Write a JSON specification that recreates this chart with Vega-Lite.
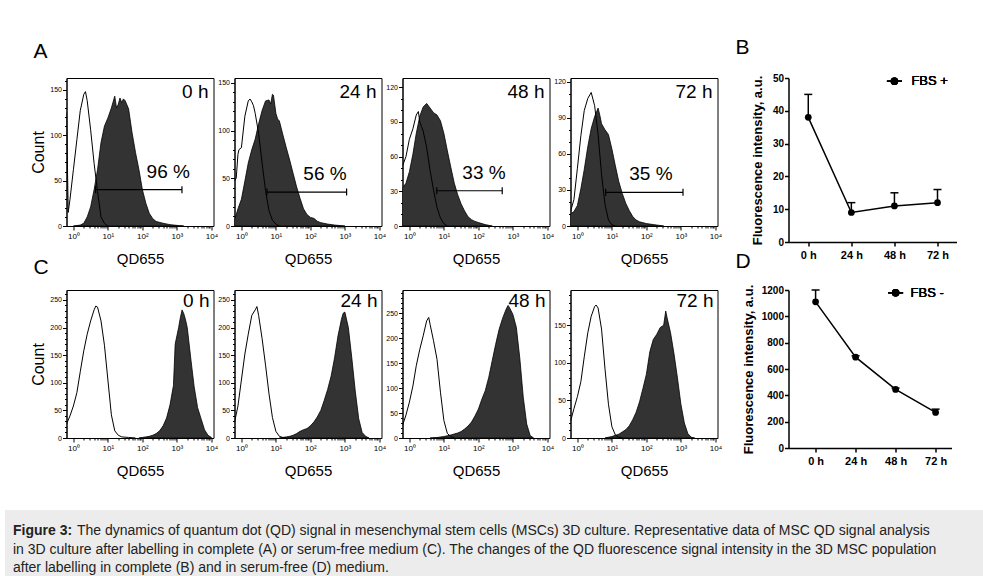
{
"$schema": "https://vega.github.io/schema/vega-lite/v6.json",
"background": "white",
"padding": {"left": 5, "top": 37, "right": 0, "bottom": 0},
"datasets": {
"h": [
{"p":"A0","c":"c","x":0.631,"n":125},{"p":"A0","c":"c","x":0.708,"n":15},{"p":"A0","c":"c","x":0.794,"n":29},{"p":"A0","c":"c","x":1,"n":62},{"p":"A0","c":"c","x":1.26,"n":95},{"p":"A0","c":"c","x":1.58,"n":127},{"p":"A0","c":"c","x":2,"n":145},{"p":"A0","c":"c","x":2.24,"n":148},{"p":"A0","c":"c","x":2.51,"n":138},{"p":"A0","c":"c","x":3.16,"n":106},{"p":"A0","c":"c","x":3.98,"n":69},{"p":"A0","c":"c","x":5.01,"n":38},{"p":"A0","c":"c","x":6.31,"n":10},{"p":"A0","c":"c","x":7.94,"n":3},{"p":"A0","c":"c","x":10,"n":0},
{"p":"A0","c":"q","x":1,"n":0},{"p":"A0","c":"q","x":1.58,"n":1},{"p":"A0","c":"q","x":2,"n":3},{"p":"A0","c":"q","x":2.51,"n":10},{"p":"A0","c":"q","x":3.16,"n":21},{"p":"A0","c":"q","x":3.98,"n":40},{"p":"A0","c":"q","x":5.01,"n":62},{"p":"A0","c":"q","x":6.31,"n":92},{"p":"A0","c":"q","x":7.94,"n":110},{"p":"A0","c":"q","x":10,"n":119},{"p":"A0","c":"q","x":12.6,"n":130},{"p":"A0","c":"q","x":15.8,"n":143},{"p":"A0","c":"q","x":17.8,"n":130},{"p":"A0","c":"q","x":20,"n":134},{"p":"A0","c":"q","x":22.4,"n":141},{"p":"A0","c":"q","x":25.1,"n":136},{"p":"A0","c":"q","x":28.2,"n":140},{"p":"A0","c":"q","x":31.6,"n":138},{"p":"A0","c":"q","x":39.8,"n":129},{"p":"A0","c":"q","x":50.1,"n":103},{"p":"A0","c":"q","x":63.1,"n":81},{"p":"A0","c":"q","x":79.4,"n":62},{"p":"A0","c":"q","x":100,"n":40},{"p":"A0","c":"q","x":126,"n":25},{"p":"A0","c":"q","x":158,"n":14},{"p":"A0","c":"q","x":200,"n":8},{"p":"A0","c":"q","x":251,"n":5},{"p":"A0","c":"q","x":398,"n":3},{"p":"A0","c":"q","x":631,"n":1.5},{"p":"A0","c":"q","x":1000,"n":0.7},{"p":"A0","c":"q","x":1585,"n":0},
{"p":"A24","c":"c","x":0.631,"n":47},{"p":"A24","c":"c","x":0.708,"n":50},{"p":"A24","c":"c","x":0.794,"n":75},{"p":"A24","c":"c","x":0.851,"n":80},{"p":"A24","c":"c","x":1,"n":82},{"p":"A24","c":"c","x":1.26,"n":115},{"p":"A24","c":"c","x":1.58,"n":131},{"p":"A24","c":"c","x":1.78,"n":133},{"p":"A24","c":"c","x":2,"n":130},{"p":"A24","c":"c","x":2.24,"n":126},{"p":"A24","c":"c","x":2.51,"n":118},{"p":"A24","c":"c","x":3.16,"n":97},{"p":"A24","c":"c","x":3.98,"n":66},{"p":"A24","c":"c","x":5.01,"n":37},{"p":"A24","c":"c","x":6.31,"n":16},{"p":"A24","c":"c","x":7.94,"n":6},{"p":"A24","c":"c","x":10,"n":2},{"p":"A24","c":"c","x":12.6,"n":0},
{"p":"A24","c":"q","x":0.631,"n":6},{"p":"A24","c":"q","x":0.794,"n":18},{"p":"A24","c":"q","x":1,"n":28},{"p":"A24","c":"q","x":1.26,"n":47},{"p":"A24","c":"q","x":1.58,"n":66},{"p":"A24","c":"q","x":2,"n":80},{"p":"A24","c":"q","x":2.51,"n":91},{"p":"A24","c":"q","x":3.16,"n":107},{"p":"A24","c":"q","x":3.98,"n":121},{"p":"A24","c":"q","x":5.01,"n":131},{"p":"A24","c":"q","x":6.31,"n":132},{"p":"A24","c":"q","x":7.08,"n":128},{"p":"A24","c":"q","x":7.94,"n":138},{"p":"A24","c":"q","x":8.5,"n":137},{"p":"A24","c":"q","x":10,"n":118},{"p":"A24","c":"q","x":11.2,"n":112},{"p":"A24","c":"q","x":12.6,"n":110},{"p":"A24","c":"q","x":15.8,"n":96},{"p":"A24","c":"q","x":20,"n":82},{"p":"A24","c":"q","x":25.1,"n":69},{"p":"A24","c":"q","x":31.6,"n":55},{"p":"A24","c":"q","x":39.8,"n":41},{"p":"A24","c":"q","x":50.1,"n":29},{"p":"A24","c":"q","x":63.1,"n":18},{"p":"A24","c":"q","x":79.4,"n":12},{"p":"A24","c":"q","x":100,"n":9},{"p":"A24","c":"q","x":126,"n":8},{"p":"A24","c":"q","x":158,"n":5},{"p":"A24","c":"q","x":200,"n":3.5},{"p":"A24","c":"q","x":316,"n":2},{"p":"A24","c":"q","x":501,"n":1},{"p":"A24","c":"q","x":1000,"n":0},
{"p":"A48","c":"c","x":0.631,"n":52},{"p":"A48","c":"c","x":0.794,"n":60},{"p":"A48","c":"c","x":1,"n":75},{"p":"A48","c":"c","x":1.26,"n":84},{"p":"A48","c":"c","x":1.58,"n":96},{"p":"A48","c":"c","x":1.82,"n":99},{"p":"A48","c":"c","x":2,"n":90},{"p":"A48","c":"c","x":2.24,"n":86},{"p":"A48","c":"c","x":2.51,"n":82},{"p":"A48","c":"c","x":3.16,"n":68},{"p":"A48","c":"c","x":3.98,"n":48},{"p":"A48","c":"c","x":5.01,"n":31},{"p":"A48","c":"c","x":6.31,"n":16},{"p":"A48","c":"c","x":7.94,"n":7},{"p":"A48","c":"c","x":10,"n":2},{"p":"A48","c":"c","x":12.6,"n":0},
{"p":"A48","c":"q","x":0.631,"n":33},{"p":"A48","c":"q","x":0.794,"n":37},{"p":"A48","c":"q","x":1,"n":47},{"p":"A48","c":"q","x":1.26,"n":62},{"p":"A48","c":"q","x":1.58,"n":80},{"p":"A48","c":"q","x":2,"n":95},{"p":"A48","c":"q","x":2.51,"n":103},{"p":"A48","c":"q","x":3.16,"n":106},{"p":"A48","c":"q","x":3.55,"n":104},{"p":"A48","c":"q","x":3.98,"n":102},{"p":"A48","c":"q","x":5.01,"n":98},{"p":"A48","c":"q","x":6.31,"n":96},{"p":"A48","c":"q","x":7.94,"n":91},{"p":"A48","c":"q","x":10,"n":80},{"p":"A48","c":"q","x":12.6,"n":65},{"p":"A48","c":"q","x":15.8,"n":51},{"p":"A48","c":"q","x":20,"n":37},{"p":"A48","c":"q","x":25.1,"n":27},{"p":"A48","c":"q","x":31.6,"n":19},{"p":"A48","c":"q","x":39.8,"n":13},{"p":"A48","c":"q","x":50.1,"n":8},{"p":"A48","c":"q","x":63.1,"n":5.5},{"p":"A48","c":"q","x":79.4,"n":4},{"p":"A48","c":"q","x":100,"n":3},{"p":"A48","c":"q","x":158,"n":1.2},{"p":"A48","c":"q","x":251,"n":0},
{"p":"A72","c":"c","x":0.631,"n":12},{"p":"A72","c":"c","x":0.794,"n":22},{"p":"A72","c":"c","x":1,"n":48},{"p":"A72","c":"c","x":1.26,"n":75},{"p":"A72","c":"c","x":1.58,"n":96},{"p":"A72","c":"c","x":2,"n":106},{"p":"A72","c":"c","x":2.51,"n":111},{"p":"A72","c":"c","x":3.16,"n":100},{"p":"A72","c":"c","x":3.98,"n":76},{"p":"A72","c":"c","x":5.01,"n":43},{"p":"A72","c":"c","x":6.31,"n":18},{"p":"A72","c":"c","x":7.94,"n":5},{"p":"A72","c":"c","x":10,"n":1},{"p":"A72","c":"c","x":12.6,"n":0},
{"p":"A72","c":"q","x":0.631,"n":10},{"p":"A72","c":"q","x":0.794,"n":12},{"p":"A72","c":"q","x":1,"n":17},{"p":"A72","c":"q","x":1.26,"n":31},{"p":"A72","c":"q","x":1.58,"n":47},{"p":"A72","c":"q","x":2,"n":66},{"p":"A72","c":"q","x":2.51,"n":81},{"p":"A72","c":"q","x":3.16,"n":91},{"p":"A72","c":"q","x":3.98,"n":98},{"p":"A72","c":"q","x":4.47,"n":92},{"p":"A72","c":"q","x":5.01,"n":85},{"p":"A72","c":"q","x":6.31,"n":80},{"p":"A72","c":"q","x":7.94,"n":76},{"p":"A72","c":"q","x":10,"n":64},{"p":"A72","c":"q","x":12.6,"n":50},{"p":"A72","c":"q","x":15.8,"n":37},{"p":"A72","c":"q","x":20,"n":27},{"p":"A72","c":"q","x":25.1,"n":19},{"p":"A72","c":"q","x":31.6,"n":13},{"p":"A72","c":"q","x":39.8,"n":8},{"p":"A72","c":"q","x":50.1,"n":5},{"p":"A72","c":"q","x":63.1,"n":3.5},{"p":"A72","c":"q","x":100,"n":2},{"p":"A72","c":"q","x":158,"n":1.2},{"p":"A72","c":"q","x":316,"n":0},
{"p":"C0","c":"c","x":0.631,"n":25},{"p":"C0","c":"c","x":0.794,"n":40},{"p":"C0","c":"c","x":1,"n":58},{"p":"C0","c":"c","x":1.26,"n":82},{"p":"C0","c":"c","x":1.58,"n":120},{"p":"C0","c":"c","x":2,"n":158},{"p":"C0","c":"c","x":2.51,"n":188},{"p":"C0","c":"c","x":3.16,"n":212},{"p":"C0","c":"c","x":3.98,"n":232},{"p":"C0","c":"c","x":4.47,"n":239},{"p":"C0","c":"c","x":5.01,"n":237},{"p":"C0","c":"c","x":6.31,"n":212},{"p":"C0","c":"c","x":7.94,"n":168},{"p":"C0","c":"c","x":10,"n":105},{"p":"C0","c":"c","x":12.6,"n":42},{"p":"C0","c":"c","x":15.8,"n":13},{"p":"C0","c":"c","x":20,"n":5},{"p":"C0","c":"c","x":25.1,"n":2},{"p":"C0","c":"c","x":39.8,"n":1},{"p":"C0","c":"c","x":63.1,"n":0},
{"p":"C0","c":"q","x":79.4,"n":0},{"p":"C0","c":"q","x":100,"n":1},{"p":"C0","c":"q","x":126,"n":2},{"p":"C0","c":"q","x":158,"n":3},{"p":"C0","c":"q","x":200,"n":5},{"p":"C0","c":"q","x":251,"n":8},{"p":"C0","c":"q","x":316,"n":13},{"p":"C0","c":"q","x":398,"n":22},{"p":"C0","c":"q","x":501,"n":36},{"p":"C0","c":"q","x":631,"n":60},{"p":"C0","c":"q","x":794,"n":95},{"p":"C0","c":"q","x":891,"n":170},{"p":"C0","c":"q","x":1000,"n":185},{"p":"C0","c":"q","x":1122,"n":200},{"p":"C0","c":"q","x":1259,"n":218},{"p":"C0","c":"q","x":1413,"n":232},{"p":"C0","c":"q","x":1585,"n":225},{"p":"C0","c":"q","x":1778,"n":214},{"p":"C0","c":"q","x":1995,"n":200},{"p":"C0","c":"q","x":2512,"n":145},{"p":"C0","c":"q","x":3162,"n":93},{"p":"C0","c":"q","x":3981,"n":55},{"p":"C0","c":"q","x":5012,"n":35},{"p":"C0","c":"q","x":6310,"n":15},{"p":"C0","c":"q","x":7943,"n":5},{"p":"C0","c":"q","x":10000,"n":1},
{"p":"C24","c":"c","x":0.631,"n":28},{"p":"C24","c":"c","x":0.794,"n":58},{"p":"C24","c":"c","x":1,"n":105},{"p":"C24","c":"c","x":1.26,"n":152},{"p":"C24","c":"c","x":1.58,"n":188},{"p":"C24","c":"c","x":2,"n":222},{"p":"C24","c":"c","x":2.51,"n":232},{"p":"C24","c":"c","x":2.82,"n":238},{"p":"C24","c":"c","x":3.16,"n":222},{"p":"C24","c":"c","x":3.98,"n":180},{"p":"C24","c":"c","x":5.01,"n":132},{"p":"C24","c":"c","x":6.31,"n":80},{"p":"C24","c":"c","x":7.94,"n":37},{"p":"C24","c":"c","x":10,"n":12},{"p":"C24","c":"c","x":12.6,"n":3},{"p":"C24","c":"c","x":15.8,"n":1},{"p":"C24","c":"c","x":20,"n":0},
{"p":"C24","c":"q","x":12.6,"n":0},{"p":"C24","c":"q","x":15.8,"n":1},{"p":"C24","c":"q","x":20,"n":2},{"p":"C24","c":"q","x":25.1,"n":3},{"p":"C24","c":"q","x":31.6,"n":5},{"p":"C24","c":"q","x":39.8,"n":8},{"p":"C24","c":"q","x":50.1,"n":12},{"p":"C24","c":"q","x":63.1,"n":15},{"p":"C24","c":"q","x":79.4,"n":17},{"p":"C24","c":"q","x":100,"n":22},{"p":"C24","c":"q","x":126,"n":29},{"p":"C24","c":"q","x":158,"n":38},{"p":"C24","c":"q","x":200,"n":50},{"p":"C24","c":"q","x":251,"n":68},{"p":"C24","c":"q","x":316,"n":88},{"p":"C24","c":"q","x":398,"n":112},{"p":"C24","c":"q","x":501,"n":145},{"p":"C24","c":"q","x":631,"n":185},{"p":"C24","c":"q","x":794,"n":215},{"p":"C24","c":"q","x":891,"n":226},{"p":"C24","c":"q","x":1000,"n":228},{"p":"C24","c":"q","x":1259,"n":200},{"p":"C24","c":"q","x":1585,"n":145},{"p":"C24","c":"q","x":1995,"n":85},{"p":"C24","c":"q","x":2512,"n":35},{"p":"C24","c":"q","x":3162,"n":10},{"p":"C24","c":"q","x":3981,"n":3},{"p":"C24","c":"q","x":5012,"n":0},
{"p":"C48","c":"c","x":0.631,"n":25},{"p":"C48","c":"c","x":0.794,"n":46},{"p":"C48","c":"c","x":1,"n":72},{"p":"C48","c":"c","x":1.26,"n":104},{"p":"C48","c":"c","x":1.58,"n":145},{"p":"C48","c":"c","x":2,"n":178},{"p":"C48","c":"c","x":2.51,"n":205},{"p":"C48","c":"c","x":3.16,"n":235},{"p":"C48","c":"c","x":3.63,"n":242},{"p":"C48","c":"c","x":3.98,"n":228},{"p":"C48","c":"c","x":5.01,"n":195},{"p":"C48","c":"c","x":6.31,"n":158},{"p":"C48","c":"c","x":7.94,"n":92},{"p":"C48","c":"c","x":10,"n":35},{"p":"C48","c":"c","x":12.6,"n":9},{"p":"C48","c":"c","x":15.8,"n":3},{"p":"C48","c":"c","x":20,"n":0},
{"p":"C48","c":"q","x":3.98,"n":0},{"p":"C48","c":"q","x":6.31,"n":1},{"p":"C48","c":"q","x":10,"n":3},{"p":"C48","c":"q","x":15.8,"n":6},{"p":"C48","c":"q","x":25.1,"n":10},{"p":"C48","c":"q","x":31.6,"n":13},{"p":"C48","c":"q","x":39.8,"n":18},{"p":"C48","c":"q","x":50.1,"n":24},{"p":"C48","c":"q","x":63.1,"n":32},{"p":"C48","c":"q","x":79.4,"n":44},{"p":"C48","c":"q","x":100,"n":58},{"p":"C48","c":"q","x":126,"n":78},{"p":"C48","c":"q","x":158,"n":95},{"p":"C48","c":"q","x":200,"n":122},{"p":"C48","c":"q","x":251,"n":155},{"p":"C48","c":"q","x":316,"n":188},{"p":"C48","c":"q","x":398,"n":218},{"p":"C48","c":"q","x":501,"n":240},{"p":"C48","c":"q","x":631,"n":258},{"p":"C48","c":"q","x":724,"n":266},{"p":"C48","c":"q","x":794,"n":262},{"p":"C48","c":"q","x":1000,"n":248},{"p":"C48","c":"q","x":1259,"n":222},{"p":"C48","c":"q","x":1585,"n":160},{"p":"C48","c":"q","x":1995,"n":82},{"p":"C48","c":"q","x":2512,"n":28},{"p":"C48","c":"q","x":3162,"n":5},{"p":"C48","c":"q","x":3981,"n":0},
{"p":"C72","c":"c","x":0.631,"n":22},{"p":"C72","c":"c","x":0.794,"n":39},{"p":"C72","c":"c","x":1,"n":55},{"p":"C72","c":"c","x":1.26,"n":75},{"p":"C72","c":"c","x":1.58,"n":108},{"p":"C72","c":"c","x":2,"n":140},{"p":"C72","c":"c","x":2.51,"n":162},{"p":"C72","c":"c","x":3.16,"n":175},{"p":"C72","c":"c","x":3.47,"n":177},{"p":"C72","c":"c","x":3.98,"n":173},{"p":"C72","c":"c","x":5.01,"n":145},{"p":"C72","c":"c","x":6.31,"n":92},{"p":"C72","c":"c","x":7.94,"n":45},{"p":"C72","c":"c","x":10,"n":15},{"p":"C72","c":"c","x":12.6,"n":4},{"p":"C72","c":"c","x":15.8,"n":1},{"p":"C72","c":"c","x":20,"n":0},
{"p":"C72","c":"q","x":6.31,"n":0},{"p":"C72","c":"q","x":10,"n":2},{"p":"C72","c":"q","x":15.8,"n":5},{"p":"C72","c":"q","x":25.1,"n":11},{"p":"C72","c":"q","x":31.6,"n":16},{"p":"C72","c":"q","x":39.8,"n":24},{"p":"C72","c":"q","x":50.1,"n":34},{"p":"C72","c":"q","x":63.1,"n":48},{"p":"C72","c":"q","x":79.4,"n":66},{"p":"C72","c":"q","x":100,"n":85},{"p":"C72","c":"q","x":126,"n":115},{"p":"C72","c":"q","x":158,"n":131},{"p":"C72","c":"q","x":200,"n":138},{"p":"C72","c":"q","x":251,"n":147},{"p":"C72","c":"q","x":316,"n":150},{"p":"C72","c":"q","x":363,"n":169},{"p":"C72","c":"q","x":398,"n":160},{"p":"C72","c":"q","x":501,"n":140},{"p":"C72","c":"q","x":631,"n":112},{"p":"C72","c":"q","x":794,"n":80},{"p":"C72","c":"q","x":1000,"n":45},{"p":"C72","c":"q","x":1259,"n":20},{"p":"C72","c":"q","x":1585,"n":6},{"p":"C72","c":"q","x":1995,"n":1},{"p":"C72","c":"q","x":2512,"n":0}
],
"g": [
{"p":"A0","lo":4.4,"hi":1400,"gy":40,"mid":560,"pct":"96 %"},
{"p":"A24","lo":5.5,"hi":1120,"gy":35.5,"mid":265,"pct":"56 %"},
{"p":"A48","lo":6.2,"hi":490,"gy":30.5,"mid":145,"pct":"33 %"},
{"p":"A72","lo":6.6,"hi":1150,"gy":28,"mid":135,"pct":"35 %"}
],
"t": [
{"p":"A0","t":"0 h"},{"p":"A24","t":"24 h"},{"p":"A48","t":"48 h"},{"p":"A72","t":"72 h"},
{"p":"C0","t":"0 h"},{"p":"C24","t":"24 h"},{"p":"C48","t":"48 h"},{"p":"C72","t":"72 h"}
],
"b": [
{"t":"0 h","v":38,"hi":45},{"t":"24 h","v":9,"hi":12},{"t":"48 h","v":11,"hi":15},{"t":"72 h","v":12,"hi":16}
],
"d": [
{"t":"0 h","v":1110,"hi":1200},{"t":"24 h","v":690,"hi":700},{"t":"48 h","v":445,"hi":455},{"t":"72 h","v":270,"hi":295}
],
"cap": [
{"k":"b","ln":1,"tx":"Figure 3:"},
{"k":"r","ln":1,"tx":"The dynamics of quantum dot (QD) signal in mesenchymal stem cells (MSCs) 3D culture. Representative data of MSC QD signal analysis"},
{"k":"n","ln":2,"tx":"in 3D culture after labelling in complete (A) or serum-free medium (C). The changes of the QD fluorescence signal intensity in the 3D MSC population"},
{"k":"n","ln":3,"tx":"after labelling in complete (B) and in serum-free (D) medium."}
]
},
"vconcat": [
{
"columns": 6,
"bounds": "flush",
"align": "each",
"spacing": {"row": 48, "column": 21},
"concat": [
{"width": 147, "height": 148, "title": {"text": "A", "dx": -33, "offset": 15}, "data": {"name": "h"}, "transform": [{"filter": "datum.p == 'A0'"}],
 "layer": [
 {"transform": [{"filter": "datum.c == 'q'"}], "mark": {"type": "area", "fill": "#333333", "stroke": "black", "strokeWidth": 0.8, "clip": true},
  "encoding": {"x": {"field": "x", "type": "quantitative", "scale": {"type": "log", "domain": [0.631, 11500], "nice": false}, "axis": {"title": "QD655", "titlePadding": 11, "labelPadding": 2, "labelFontSize": 8, "tickCount": 100, "labelOverlap": false, "values": [1,2,3,4,5,6,7,8,9,10,20,30,40,50,60,70,80,90,100,200,300,400,500,600,700,800,900,1000,2000,3000,4000,5000,6000,7000,8000,9000,10000], "labelExpr": "datum.value == 1 ? '10⁰' : datum.value == 10 ? '10¹' : datum.value == 100 ? '10²' : datum.value == 1000 ? '10³' : datum.value == 10000 ? '10⁴' : ''", "tickSize": {"condition": {"test": "indexof([1,10,100,1000,10000], datum.value) >= 0", "value": 4}, "value": 2}}},
   "y": {"field": "n", "type": "quantitative", "scale": {"domain": [0, 163], "nice": false}, "axis": {"title": "Count", "titleFontSize": 16, "titlePadding": 3, "tickCount": 100, "labelOverlap": false, "values": [0,10,20,30,40,50,60,70,80,90,100,110,120,130,140,150,160], "labelExpr": "datum.value % 50 == 0 ? datum.label : ''", "tickSize": {"condition": {"test": "datum.value % 50 == 0", "value": 4}, "value": 2}}}}},
 {"transform": [{"filter": "datum.c == 'c'"}], "mark": {"type": "line", "color": "black", "strokeWidth": 1, "clip": true}, "encoding": {"x": {"field": "x", "type": "quantitative"}, "y": {"field": "n", "type": "quantitative"}}},
 {"data": {"name": "g"}, "transform": [{"filter": "datum.p == 'A0'"}], "mark": {"type": "rule", "color": "black", "strokeWidth": 1.2}, "encoding": {"x": {"field": "lo", "type": "quantitative"}, "x2": {"field": "hi"}, "y": {"field": "gy", "type": "quantitative"}}},
 {"data": {"name": "g"}, "transform": [{"filter": "datum.p == 'A0'"}, {"fold": ["lo", "hi"], "as": ["end", "ex"]}], "mark": {"type": "point", "shape": "M0,-1V1", "size": 49, "color": "black", "strokeWidth": 1.2, "filled": false, "opacity": 1}, "encoding": {"x": {"field": "ex", "type": "quantitative"}, "y": {"field": "gy", "type": "quantitative"}}},
 {"data": {"name": "g"}, "transform": [{"filter": "datum.p == 'A0'"}], "mark": {"type": "text", "fontSize": 19, "dy": -12, "baseline": "alphabetic", "align": "center"}, "encoding": {"x": {"field": "mid", "type": "quantitative"}, "y": {"field": "gy", "type": "quantitative"}, "text": {"field": "pct"}}},
 {"data": {"name": "t"}, "transform": [{"filter": "datum.p == 'A0'"}], "mark": {"type": "text", "fontSize": 19, "align": "right", "baseline": "alphabetic", "dx": -5}, "encoding": {"x": {"datum": 11500}, "y": {"value": 20}, "text": {"field": "t"}}}
 ]},
{"width": 147, "height": 148, "data": {"name": "h"}, "transform": [{"filter": "datum.p == 'A24'"}],
 "layer": [
 {"transform": [{"filter": "datum.c == 'q'"}], "mark": {"type": "area", "fill": "#333333", "stroke": "black", "strokeWidth": 0.8, "clip": true},
  "encoding": {"x": {"field": "x", "type": "quantitative", "scale": {"type": "log", "domain": [0.631, 11500], "nice": false}, "axis": {"title": "QD655", "titlePadding": 11, "labelPadding": 2, "labelFontSize": 8, "tickCount": 100, "labelOverlap": false, "values": [1,2,3,4,5,6,7,8,9,10,20,30,40,50,60,70,80,90,100,200,300,400,500,600,700,800,900,1000,2000,3000,4000,5000,6000,7000,8000,9000,10000], "labelExpr": "datum.value == 1 ? '10⁰' : datum.value == 10 ? '10¹' : datum.value == 100 ? '10²' : datum.value == 1000 ? '10³' : datum.value == 10000 ? '10⁴' : ''", "tickSize": {"condition": {"test": "indexof([1,10,100,1000,10000], datum.value) >= 0", "value": 4}, "value": 2}}},
   "y": {"field": "n", "type": "quantitative", "scale": {"domain": [0, 155], "nice": false}, "axis": {"title": null, "tickCount": 100, "labelOverlap": false, "values": [0,10,20,30,40,50,60,70,80,90,100,110,120,130,140,150], "labelExpr": "datum.value % 50 == 0 ? datum.label : ''", "tickSize": {"condition": {"test": "datum.value % 50 == 0", "value": 4}, "value": 2}}}}},
 {"transform": [{"filter": "datum.c == 'c'"}], "mark": {"type": "line", "color": "black", "strokeWidth": 1, "clip": true}, "encoding": {"x": {"field": "x", "type": "quantitative"}, "y": {"field": "n", "type": "quantitative"}}},
 {"data": {"name": "g"}, "transform": [{"filter": "datum.p == 'A24'"}], "mark": {"type": "rule", "color": "black", "strokeWidth": 1.2}, "encoding": {"x": {"field": "lo", "type": "quantitative"}, "x2": {"field": "hi"}, "y": {"field": "gy", "type": "quantitative"}}},
 {"data": {"name": "g"}, "transform": [{"filter": "datum.p == 'A24'"}, {"fold": ["lo", "hi"], "as": ["end", "ex"]}], "mark": {"type": "point", "shape": "M0,-1V1", "size": 49, "color": "black", "strokeWidth": 1.2, "filled": false, "opacity": 1}, "encoding": {"x": {"field": "ex", "type": "quantitative"}, "y": {"field": "gy", "type": "quantitative"}}},
 {"data": {"name": "g"}, "transform": [{"filter": "datum.p == 'A24'"}], "mark": {"type": "text", "fontSize": 19, "dy": -12, "baseline": "alphabetic", "align": "center"}, "encoding": {"x": {"field": "mid", "type": "quantitative"}, "y": {"field": "gy", "type": "quantitative"}, "text": {"field": "pct"}}},
 {"data": {"name": "t"}, "transform": [{"filter": "datum.p == 'A24'"}], "mark": {"type": "text", "fontSize": 19, "align": "right", "baseline": "alphabetic", "dx": -5}, "encoding": {"x": {"datum": 11500}, "y": {"value": 20}, "text": {"field": "t"}}}
 ]},
{"width": 147, "height": 148, "data": {"name": "h"}, "transform": [{"filter": "datum.p == 'A48'"}],
 "layer": [
 {"transform": [{"filter": "datum.c == 'q'"}], "mark": {"type": "area", "fill": "#333333", "stroke": "black", "strokeWidth": 0.8, "clip": true},
  "encoding": {"x": {"field": "x", "type": "quantitative", "scale": {"type": "log", "domain": [0.631, 11500], "nice": false}, "axis": {"title": "QD655", "titlePadding": 11, "labelPadding": 2, "labelFontSize": 8, "tickCount": 100, "labelOverlap": false, "values": [1,2,3,4,5,6,7,8,9,10,20,30,40,50,60,70,80,90,100,200,300,400,500,600,700,800,900,1000,2000,3000,4000,5000,6000,7000,8000,9000,10000], "labelExpr": "datum.value == 1 ? '10⁰' : datum.value == 10 ? '10¹' : datum.value == 100 ? '10²' : datum.value == 1000 ? '10³' : datum.value == 10000 ? '10⁴' : ''", "tickSize": {"condition": {"test": "indexof([1,10,100,1000,10000], datum.value) >= 0", "value": 4}, "value": 2}}},
   "y": {"field": "n", "type": "quantitative", "scale": {"domain": [0, 128], "nice": false}, "axis": {"title": null, "tickCount": 100, "labelOverlap": false, "values": [0,10,20,30,40,50,60,70,80,90,100,110,120], "labelExpr": "datum.value % 30 == 0 ? datum.label : ''", "tickSize": {"condition": {"test": "datum.value % 30 == 0", "value": 4}, "value": 2}}}}},
 {"transform": [{"filter": "datum.c == 'c'"}], "mark": {"type": "line", "color": "black", "strokeWidth": 1, "clip": true}, "encoding": {"x": {"field": "x", "type": "quantitative"}, "y": {"field": "n", "type": "quantitative"}}},
 {"data": {"name": "g"}, "transform": [{"filter": "datum.p == 'A48'"}], "mark": {"type": "rule", "color": "black", "strokeWidth": 1.2}, "encoding": {"x": {"field": "lo", "type": "quantitative"}, "x2": {"field": "hi"}, "y": {"field": "gy", "type": "quantitative"}}},
 {"data": {"name": "g"}, "transform": [{"filter": "datum.p == 'A48'"}, {"fold": ["lo", "hi"], "as": ["end", "ex"]}], "mark": {"type": "point", "shape": "M0,-1V1", "size": 49, "color": "black", "strokeWidth": 1.2, "filled": false, "opacity": 1}, "encoding": {"x": {"field": "ex", "type": "quantitative"}, "y": {"field": "gy", "type": "quantitative"}}},
 {"data": {"name": "g"}, "transform": [{"filter": "datum.p == 'A48'"}], "mark": {"type": "text", "fontSize": 19, "dy": -12, "baseline": "alphabetic", "align": "center"}, "encoding": {"x": {"field": "mid", "type": "quantitative"}, "y": {"field": "gy", "type": "quantitative"}, "text": {"field": "pct"}}},
 {"data": {"name": "t"}, "transform": [{"filter": "datum.p == 'A48'"}], "mark": {"type": "text", "fontSize": 19, "align": "right", "baseline": "alphabetic", "dx": -5}, "encoding": {"x": {"datum": 11500}, "y": {"value": 20}, "text": {"field": "t"}}}
 ]},
{"width": 147, "height": 148, "data": {"name": "h"}, "transform": [{"filter": "datum.p == 'A72'"}],
 "layer": [
 {"transform": [{"filter": "datum.c == 'q'"}], "mark": {"type": "area", "fill": "#333333", "stroke": "black", "strokeWidth": 0.8, "clip": true},
  "encoding": {"x": {"field": "x", "type": "quantitative", "scale": {"type": "log", "domain": [0.631, 11500], "nice": false}, "axis": {"title": "QD655", "titlePadding": 11, "labelPadding": 2, "labelFontSize": 8, "tickCount": 100, "labelOverlap": false, "values": [1,2,3,4,5,6,7,8,9,10,20,30,40,50,60,70,80,90,100,200,300,400,500,600,700,800,900,1000,2000,3000,4000,5000,6000,7000,8000,9000,10000], "labelExpr": "datum.value == 1 ? '10⁰' : datum.value == 10 ? '10¹' : datum.value == 100 ? '10²' : datum.value == 1000 ? '10³' : datum.value == 10000 ? '10⁴' : ''", "tickSize": {"condition": {"test": "indexof([1,10,100,1000,10000], datum.value) >= 0", "value": 4}, "value": 2}}},
   "y": {"field": "n", "type": "quantitative", "scale": {"domain": [0, 123], "nice": false}, "axis": {"title": null, "tickCount": 100, "labelOverlap": false, "values": [0,10,20,30,40,50,60,70,80,90,100,110,120], "labelExpr": "datum.value % 30 == 0 ? datum.label : ''", "tickSize": {"condition": {"test": "datum.value % 30 == 0", "value": 4}, "value": 2}}}}},
 {"transform": [{"filter": "datum.c == 'c'"}], "mark": {"type": "line", "color": "black", "strokeWidth": 1, "clip": true}, "encoding": {"x": {"field": "x", "type": "quantitative"}, "y": {"field": "n", "type": "quantitative"}}},
 {"data": {"name": "g"}, "transform": [{"filter": "datum.p == 'A72'"}], "mark": {"type": "rule", "color": "black", "strokeWidth": 1.2}, "encoding": {"x": {"field": "lo", "type": "quantitative"}, "x2": {"field": "hi"}, "y": {"field": "gy", "type": "quantitative"}}},
 {"data": {"name": "g"}, "transform": [{"filter": "datum.p == 'A72'"}, {"fold": ["lo", "hi"], "as": ["end", "ex"]}], "mark": {"type": "point", "shape": "M0,-1V1", "size": 49, "color": "black", "strokeWidth": 1.2, "filled": false, "opacity": 1}, "encoding": {"x": {"field": "ex", "type": "quantitative"}, "y": {"field": "gy", "type": "quantitative"}}},
 {"data": {"name": "g"}, "transform": [{"filter": "datum.p == 'A72'"}], "mark": {"type": "text", "fontSize": 19, "dy": -12, "baseline": "alphabetic", "align": "center"}, "encoding": {"x": {"field": "mid", "type": "quantitative"}, "y": {"field": "gy", "type": "quantitative"}, "text": {"field": "pct"}}},
 {"data": {"name": "t"}, "transform": [{"filter": "datum.p == 'A72'"}], "mark": {"type": "text", "fontSize": 19, "align": "right", "baseline": "alphabetic", "dx": -5}, "encoding": {"x": {"datum": 11500}, "y": {"value": 20}, "text": {"field": "t"}}}
 ]},
{"width": 29, "height": 1, "view": {"stroke": null}, "data": {"values": [{}]}, "mark": {"type": "text", "text": ""}},
{"width": 168, "height": 164, "title": {"text": "B", "dx": -53, "offset": 15}, "view": {"stroke": null}, "data": {"name": "b"},
 "encoding": {"x": {"field": "t", "type": "ordinal", "sort": null, "scale": {"type": "point", "padding": 0.45, "align": 0.51}, "axis": {"title": null, "labelAngle": 0, "labelFontSize": 11, "labelFontWeight": "bold", "labelPadding": 3, "tickSize": 4, "tickWidth": 1.5, "domainWidth": 1.5, "labelOverlap": false}}},
 "layer": [
 {"mark": {"type": "rule", "color": "black", "strokeWidth": 1.5}, "encoding": {"y": {"field": "v", "type": "quantitative", "scale": {"domain": [0, 50], "nice": false}, "axis": {"title": "Fluorescence intensity, a.u.", "titleFontSize": 13, "titleFontWeight": "bold", "titlePadding": 8, "values": [0,10,20,30,40,50], "format": "d", "tickCount": 100, "labelFontSize": 10, "labelFontWeight": "bold", "labelPadding": 1, "labelOverlap": false, "tickSize": 4, "tickWidth": 1.5, "domainWidth": 1.5}}, "y2": {"field": "hi"}}},
 {"mark": {"type": "point", "shape": "M-1,0H1", "size": 64, "color": "black", "strokeWidth": 1.5, "filled": false, "opacity": 1}, "encoding": {"y": {"field": "hi", "type": "quantitative"}}},
 {"mark": {"type": "line", "color": "black", "strokeWidth": 1.5}, "encoding": {"y": {"field": "v", "type": "quantitative"}}},
 {"mark": {"type": "point", "filled": true, "color": "black", "size": 45, "opacity": 1}, "encoding": {"y": {"field": "v", "type": "quantitative"}}},
 {"mark": {"type": "point", "shape": "M-1,0H1M0.4,0A0.4,0.4,0,1,1,-0.4,0A0.4,0.4,0,1,1,0.4,0Z", "size": 225, "filled": true, "fill": "black", "stroke": "black", "strokeWidth": 1.5, "opacity": 1, "dx": 2}, "encoding": {"x": {"datum": "48 h"}, "y": {"datum": 49}}},
 {"mark": {"type": "text", "text": "FBS +", "fontSize": 13, "fontWeight": "normal", "align": "left", "baseline": "middle", "dx": 17}, "encoding": {"x": {"datum": "48 h"}, "y": {"datum": 49}}}
 ]},
{"width": 147, "height": 148, "title": {"text": "C", "dx": -33, "offset": 12}, "data": {"name": "h"}, "transform": [{"filter": "datum.p == 'C0'"}],
 "layer": [
 {"transform": [{"filter": "datum.c == 'q'"}], "mark": {"type": "area", "fill": "#333333", "stroke": "black", "strokeWidth": 0.8, "clip": true},
  "encoding": {"x": {"field": "x", "type": "quantitative", "scale": {"type": "log", "domain": [0.631, 11500], "nice": false}, "axis": {"title": "QD655", "titlePadding": 11, "labelPadding": 2, "labelFontSize": 8, "tickCount": 100, "labelOverlap": false, "values": [1,2,3,4,5,6,7,8,9,10,20,30,40,50,60,70,80,90,100,200,300,400,500,600,700,800,900,1000,2000,3000,4000,5000,6000,7000,8000,9000,10000], "labelExpr": "datum.value == 1 ? '10⁰' : datum.value == 10 ? '10¹' : datum.value == 100 ? '10²' : datum.value == 1000 ? '10³' : datum.value == 10000 ? '10⁴' : ''", "tickSize": {"condition": {"test": "indexof([1,10,100,1000,10000], datum.value) >= 0", "value": 4}, "value": 2}}},
   "y": {"field": "n", "type": "quantitative", "scale": {"domain": [0, 268], "nice": false}, "axis": {"title": "Count", "titleFontSize": 16, "titlePadding": 3, "tickCount": 100, "labelOverlap": false, "values": [0,10,20,30,40,50,60,70,80,90,100,110,120,130,140,150,160,170,180,190,200,210,220,230,240,250,260], "labelExpr": "datum.value % 50 == 0 ? datum.label : ''", "tickSize": {"condition": {"test": "datum.value % 50 == 0", "value": 4}, "value": 2}}}}},
 {"transform": [{"filter": "datum.c == 'c'"}], "mark": {"type": "line", "color": "black", "strokeWidth": 1, "clip": true}, "encoding": {"x": {"field": "x", "type": "quantitative"}, "y": {"field": "n", "type": "quantitative"}}},
 {"data": {"name": "t"}, "transform": [{"filter": "datum.p == 'C0'"}], "mark": {"type": "text", "fontSize": 19, "align": "right", "baseline": "alphabetic", "dx": -4}, "encoding": {"x": {"datum": 11500}, "y": {"value": 17}, "text": {"field": "t"}}}
 ]},
{"width": 147, "height": 148, "data": {"name": "h"}, "transform": [{"filter": "datum.p == 'C24'"}],
 "layer": [
 {"transform": [{"filter": "datum.c == 'q'"}], "mark": {"type": "area", "fill": "#333333", "stroke": "black", "strokeWidth": 0.8, "clip": true},
  "encoding": {"x": {"field": "x", "type": "quantitative", "scale": {"type": "log", "domain": [0.631, 11500], "nice": false}, "axis": {"title": "QD655", "titlePadding": 11, "labelPadding": 2, "labelFontSize": 8, "tickCount": 100, "labelOverlap": false, "values": [1,2,3,4,5,6,7,8,9,10,20,30,40,50,60,70,80,90,100,200,300,400,500,600,700,800,900,1000,2000,3000,4000,5000,6000,7000,8000,9000,10000], "labelExpr": "datum.value == 1 ? '10⁰' : datum.value == 10 ? '10¹' : datum.value == 100 ? '10²' : datum.value == 1000 ? '10³' : datum.value == 10000 ? '10⁴' : ''", "tickSize": {"condition": {"test": "indexof([1,10,100,1000,10000], datum.value) >= 0", "value": 4}, "value": 2}}},
   "y": {"field": "n", "type": "quantitative", "scale": {"domain": [0, 268], "nice": false}, "axis": {"title": null, "tickCount": 100, "labelOverlap": false, "values": [0,10,20,30,40,50,60,70,80,90,100,110,120,130,140,150,160,170,180,190,200,210,220,230,240,250,260], "labelExpr": "datum.value % 50 == 0 ? datum.label : ''", "tickSize": {"condition": {"test": "datum.value % 50 == 0", "value": 4}, "value": 2}}}}},
 {"transform": [{"filter": "datum.c == 'c'"}], "mark": {"type": "line", "color": "black", "strokeWidth": 1, "clip": true}, "encoding": {"x": {"field": "x", "type": "quantitative"}, "y": {"field": "n", "type": "quantitative"}}},
 {"data": {"name": "t"}, "transform": [{"filter": "datum.p == 'C24'"}], "mark": {"type": "text", "fontSize": 19, "align": "right", "baseline": "alphabetic", "dx": -4}, "encoding": {"x": {"datum": 11500}, "y": {"value": 17}, "text": {"field": "t"}}}
 ]},
{"width": 147, "height": 148, "data": {"name": "h"}, "transform": [{"filter": "datum.p == 'C48'"}],
 "layer": [
 {"transform": [{"filter": "datum.c == 'q'"}], "mark": {"type": "area", "fill": "#333333", "stroke": "black", "strokeWidth": 0.8, "clip": true},
  "encoding": {"x": {"field": "x", "type": "quantitative", "scale": {"type": "log", "domain": [0.631, 11500], "nice": false}, "axis": {"title": "QD655", "titlePadding": 11, "labelPadding": 2, "labelFontSize": 8, "tickCount": 100, "labelOverlap": false, "values": [1,2,3,4,5,6,7,8,9,10,20,30,40,50,60,70,80,90,100,200,300,400,500,600,700,800,900,1000,2000,3000,4000,5000,6000,7000,8000,9000,10000], "labelExpr": "datum.value == 1 ? '10⁰' : datum.value == 10 ? '10¹' : datum.value == 100 ? '10²' : datum.value == 1000 ? '10³' : datum.value == 10000 ? '10⁴' : ''", "tickSize": {"condition": {"test": "indexof([1,10,100,1000,10000], datum.value) >= 0", "value": 4}, "value": 2}}},
   "y": {"field": "n", "type": "quantitative", "scale": {"domain": [0, 297], "nice": false}, "axis": {"title": null, "tickCount": 100, "labelOverlap": false, "values": [0,10,20,30,40,50,60,70,80,90,100,110,120,130,140,150,160,170,180,190,200,210,220,230,240,250,260,270,280,290], "labelExpr": "datum.value % 50 == 0 ? datum.label : ''", "tickSize": {"condition": {"test": "datum.value % 50 == 0", "value": 4}, "value": 2}}}}},
 {"transform": [{"filter": "datum.c == 'c'"}], "mark": {"type": "line", "color": "black", "strokeWidth": 1, "clip": true}, "encoding": {"x": {"field": "x", "type": "quantitative"}, "y": {"field": "n", "type": "quantitative"}}},
 {"data": {"name": "t"}, "transform": [{"filter": "datum.p == 'C48'"}], "mark": {"type": "text", "fontSize": 19, "align": "right", "baseline": "alphabetic", "dx": -4}, "encoding": {"x": {"datum": 11500}, "y": {"value": 17}, "text": {"field": "t"}}}
 ]},
{"width": 147, "height": 148, "data": {"name": "h"}, "transform": [{"filter": "datum.p == 'C72'"}],
 "layer": [
 {"transform": [{"filter": "datum.c == 'q'"}], "mark": {"type": "area", "fill": "#333333", "stroke": "black", "strokeWidth": 0.8, "clip": true},
  "encoding": {"x": {"field": "x", "type": "quantitative", "scale": {"type": "log", "domain": [0.631, 11500], "nice": false}, "axis": {"title": "QD655", "titlePadding": 11, "labelPadding": 2, "labelFontSize": 8, "tickCount": 100, "labelOverlap": false, "values": [1,2,3,4,5,6,7,8,9,10,20,30,40,50,60,70,80,90,100,200,300,400,500,600,700,800,900,1000,2000,3000,4000,5000,6000,7000,8000,9000,10000], "labelExpr": "datum.value == 1 ? '10⁰' : datum.value == 10 ? '10¹' : datum.value == 100 ? '10²' : datum.value == 1000 ? '10³' : datum.value == 10000 ? '10⁴' : ''", "tickSize": {"condition": {"test": "indexof([1,10,100,1000,10000], datum.value) >= 0", "value": 4}, "value": 2}}},
   "y": {"field": "n", "type": "quantitative", "scale": {"domain": [0, 197], "nice": false}, "axis": {"title": null, "tickCount": 100, "labelOverlap": false, "values": [0,10,20,30,40,50,60,70,80,90,100,110,120,130,140,150,160,170,180,190], "labelExpr": "datum.value % 50 == 0 ? datum.label : ''", "tickSize": {"condition": {"test": "datum.value % 50 == 0", "value": 4}, "value": 2}}}}},
 {"transform": [{"filter": "datum.c == 'c'"}], "mark": {"type": "line", "color": "black", "strokeWidth": 1, "clip": true}, "encoding": {"x": {"field": "x", "type": "quantitative"}, "y": {"field": "n", "type": "quantitative"}}},
 {"data": {"name": "t"}, "transform": [{"filter": "datum.p == 'C72'"}], "mark": {"type": "text", "fontSize": 19, "align": "right", "baseline": "alphabetic", "dx": -4}, "encoding": {"x": {"datum": 11500}, "y": {"value": 17}, "text": {"field": "t"}}}
 ]},
{"width": 29, "height": 1, "view": {"stroke": null}, "data": {"values": [{}]}, "mark": {"type": "text", "text": ""}},
{"width": 163, "height": 158, "title": {"text": "D", "dx": -53, "offset": 12}, "view": {"stroke": null}, "data": {"name": "d"},
 "encoding": {"x": {"field": "t", "type": "ordinal", "sort": null, "scale": {"type": "point", "padding": 0.5375, "align": 0.63}, "axis": {"title": null, "labelAngle": 0, "labelFontSize": 11, "labelFontWeight": "bold", "labelPadding": 3, "tickSize": 4, "tickWidth": 1.5, "domainWidth": 1.5, "labelOverlap": false}}},
 "layer": [
 {"mark": {"type": "rule", "color": "black", "strokeWidth": 1.5}, "encoding": {"y": {"field": "v", "type": "quantitative", "scale": {"domain": [0, 1200], "nice": false}, "axis": {"title": "Fluorescence intensity, a.u.", "titleFontSize": 13, "titleFontWeight": "bold", "titlePadding": 6, "values": [0,200,400,600,800,1000,1200], "tickCount": 100, "format": "d", "labelFontSize": 10, "labelFontWeight": "bold", "labelPadding": 1, "labelOverlap": false, "tickSize": 4, "tickWidth": 1.5, "domainWidth": 1.5}}, "y2": {"field": "hi"}}},
 {"mark": {"type": "point", "shape": "M-1,0H1", "size": 64, "color": "black", "strokeWidth": 1.5, "filled": false, "opacity": 1}, "encoding": {"y": {"field": "hi", "type": "quantitative"}}},
 {"mark": {"type": "line", "color": "black", "strokeWidth": 1.5}, "encoding": {"y": {"field": "v", "type": "quantitative"}}},
 {"mark": {"type": "point", "filled": true, "color": "black", "size": 45, "opacity": 1}, "encoding": {"y": {"field": "v", "type": "quantitative"}}},
 {"mark": {"type": "point", "shape": "M-1,0H1M0.4,0A0.4,0.4,0,1,1,-0.4,0A0.4,0.4,0,1,1,0.4,0Z", "size": 225, "filled": true, "fill": "black", "stroke": "black", "strokeWidth": 1.5, "opacity": 1, "dx": 1}, "encoding": {"x": {"datum": "48 h"}, "y": {"datum": 1180}}},
 {"mark": {"type": "text", "text": "FBS -", "fontSize": 13, "fontWeight": "normal", "align": "left", "baseline": "middle", "dx": 15}, "encoding": {"x": {"datum": "48 h"}, "y": {"datum": 1180}}}
 ]}
]
},
{"width": 1013, "height": 72, "view": {"fill": "#ececec", "stroke": null}, "data": {"name": "cap"},
 "encoding": {"y": {"field": "ln", "type": "ordinal", "scale": {"type": "point", "domain": [1, 2, 3], "range": [21, 58], "padding": 0}, "axis": null}, "text": {"field": "tx"}},
 "layer": [
 {"transform": [{"filter": "datum.k == 'b'"}], "mark": {"type": "text", "align": "left", "baseline": "middle", "fontSize": 14, "fontWeight": "bold", "color": "#222222"}, "encoding": {"x": {"value": 8}}},
 {"transform": [{"filter": "datum.k == 'r'"}], "mark": {"type": "text", "align": "left", "baseline": "middle", "fontSize": 14, "color": "#222222", "dx": 64}, "encoding": {"x": {"value": 8}}},
 {"transform": [{"filter": "datum.k == 'n'"}], "mark": {"type": "text", "align": "left", "baseline": "middle", "fontSize": 14, "color": "#222222"}, "encoding": {"x": {"value": 8}}}
 ]}
],
"spacing": 31,
"center": true,
"config": {
 "font": "Liberation Sans",
 "view": {"stroke": "black", "strokeWidth": 1},
 "axis": {"grid": false, "domainColor": "black", "domainWidth": 1, "tickColor": "black", "labelColor": "black", "titleColor": "black", "titleFontWeight": "normal", "titleFontSize": 15, "labelFontSize": 7, "labelPadding": 1, "labelOverlap": false, "labelFlush": false, "labelFont": "Liberation Sans", "titleFont": "Liberation Sans"},
 "title": {"font": "Liberation Sans", "fontWeight": "normal", "fontSize": 21, "color": "black", "anchor": "start", "frame": "group"}
}
}
